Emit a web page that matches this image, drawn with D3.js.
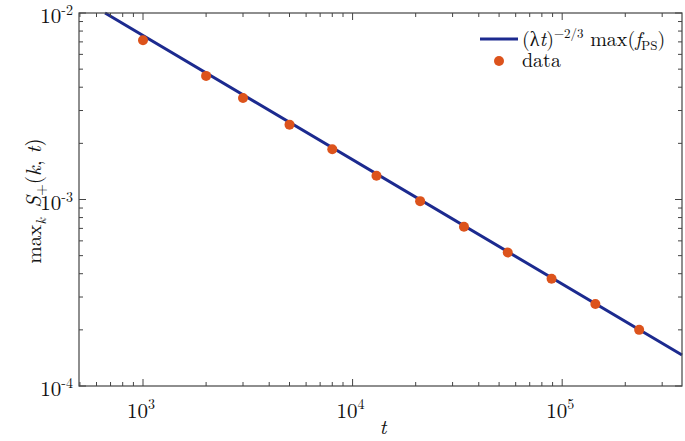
<!DOCTYPE html>
<html>
<head>
<meta charset="utf-8">
<script src="https://cdn.jsdelivr.net/npm/d3@7"></script>
<style>
  body { margin: 0; background: #fff; }
  svg { display: block; }
  text { font-family: "Latin Modern Roman", "Liberation Serif", "DejaVu Serif", serif; fill: #111; }
</style>
</head>
<body>
<svg id="chart" width="685" height="441"></svg>
<script>
'use strict';

// data points (t, max_k S+)
var times = [1000, 2000, 3000, 5000, 8000, 13000, 21000, 34000, 55000, 89000, 144000, 233000];
var peaks = [7.15e-3, 4.6e-3, 3.5e-3, 2.52e-3, 1.86e-3, 1.34e-3, 9.8e-4, 7.15e-4, 5.2e-4, 3.76e-4, 2.75e-4, 2.0e-4];

// fitted power-law line, endpoints
var lineT = [659, 373000];
var lineS = [1.0e-2, 1.465e-4];

var xTicks = [1e3, 1e4, 1e5];
var xTickExp = ['3', '4', '5'];
var yTicks = [1e-4, 1e-3, 1e-2];
var yTickExp = ['-4', '-3', '-2'];

var svg = d3.select('#chart');
var mLeft = 79, mRight = 682, mTop = 13, mBottom = 386;

var x = d3.scaleLog().domain([495, 373000]).range([mLeft, mRight]);
var y = d3.scaleLog().domain([1e-4, 1e-2]).range([mBottom, mTop]);

var blue = '#1c2a8f', orange = '#dc531c', axisCol = '#444';

// minor ticks
var xMinor = [], yMinor = [];
[100, 1000, 10000, 100000].forEach(function (d) {
    for (var i = 2; i <= 9; i++) {
        var v = d * i;
        if (v > 495 && v < 373000) xMinor.push(v);
    }
});
[1e-4, 1e-3].forEach(function (d) {
    for (var i = 2; i <= 9; i++) yMinor.push(d * i);
});

var g = svg.append('g');

// plot line and points
g.append('path')
    .datum(d3.range(lineT.length))
    .attr('fill', 'none')
    .attr('stroke', blue)
    .attr('stroke-width', 3)
    .attr('d', d3.line().x(function (i) { return x(lineT[i]); }).y(function (i) { return y(lineS[i]); }));

g.selectAll('circle.pt')
    .data(times)
    .enter().append('circle')
    .attr('class', 'pt')
    .attr('cx', function (d) { return x(d); })
    .attr('cy', function (d, i) { return y(peaks[i]); })
    .attr('r', 5)
    .attr('fill', orange);

// frame
g.append('rect')
    .attr('x', mLeft).attr('y', mTop)
    .attr('width', mRight - mLeft).attr('height', mBottom - mTop)
    .attr('fill', 'none').attr('stroke', axisCol).attr('stroke-width', 1.2);

// ticks (inside, on all four sides)
var tk = g.append('g').attr('stroke', axisCol).attr('stroke-width', 1);
xMinor.forEach(function (v) {
    tk.append('line').attr('x1', x(v)).attr('x2', x(v)).attr('y1', mBottom).attr('y2', mBottom - 4);
    tk.append('line').attr('x1', x(v)).attr('x2', x(v)).attr('y1', mTop).attr('y2', mTop + 4);
});
xTicks.forEach(function (v) {
    tk.append('line').attr('x1', x(v)).attr('x2', x(v)).attr('y1', mBottom).attr('y2', mBottom - 7);
    tk.append('line').attr('x1', x(v)).attr('x2', x(v)).attr('y1', mTop).attr('y2', mTop + 7);
});
yMinor.forEach(function (v) {
    tk.append('line').attr('y1', y(v)).attr('y2', y(v)).attr('x1', mLeft).attr('x2', mLeft + 4);
    tk.append('line').attr('y1', y(v)).attr('y2', y(v)).attr('x1', mRight).attr('x2', mRight - 4);
});
yTicks.forEach(function (v) {
    tk.append('line').attr('y1', y(v)).attr('y2', y(v)).attr('x1', mLeft).attr('x2', mLeft + 7);
    tk.append('line').attr('y1', y(v)).attr('y2', y(v)).attr('x1', mRight).attr('x2', mRight - 7);
});

// tick labels
xTicks.forEach(function (v, i) {
    var t = svg.append('text')
        .attr('x', x(v) - 2).attr('y', mBottom + 32)
        .attr('text-anchor', 'middle')
        .style('font-size', '21px');
    t.append('tspan').text('10');
    t.append('tspan').attr('dy', -9).style('font-size', '14px').text(xTickExp[i]);
});
yTicks.forEach(function (v, i) {
    var t = svg.append('text')
        .attr('x', mLeft - 6).attr('y', y(v) + 10)
        .attr('text-anchor', 'end')
        .style('font-size', '21px');
    t.append('tspan').text('10');
    t.append('tspan').attr('dy', -8).style('font-size', '14px').text(yTickExp[i]);
});

// axis labels
svg.append('text')
    .attr('x', 383).attr('y', 434)
    .attr('text-anchor', 'middle')
    .style('font-size', '21px').style('font-style', 'italic')
    .text('t');

var yl = svg.append('text')
    .attr('transform', 'translate(41,201) rotate(-90)')
    .attr('text-anchor', 'middle')
    .style('font-size', '21px');
yl.append('tspan').text('max');
yl.append('tspan').attr('dy', 5).style('font-size', '14px').style('font-style', 'italic').text('k');
yl.append('tspan').attr('dy', -5).text('\u2002');
yl.append('tspan').style('font-style', 'italic').text('S');
yl.append('tspan').attr('dy', 5).style('font-size', '15px').text('+');
yl.append('tspan').attr('dy', -5).text('(');
yl.append('tspan').style('font-style', 'italic').text('k');
yl.append('tspan').text(', ');
yl.append('tspan').style('font-style', 'italic').text('t');
yl.append('tspan').text(')');

// legend
var lg = svg.append('g');
lg.append('line').attr('x1', 480).attr('x2', 518).attr('y1', 39).attr('y2', 39)
    .attr('stroke', blue).attr('stroke-width', 3);
var lt = lg.append('text').attr('x', 522).attr('y', 46).style('font-size', '20px');
lt.append('tspan').text('(\u03BB');
lt.append('tspan').style('font-style', 'italic').text('t');
lt.append('tspan').text(')');
lt.append('tspan').attr('dy', -8).style('font-size', '13px').text('\u22122/3');
lt.append('tspan').attr('dy', 8).text(' max(');
lt.append('tspan').style('font-style', 'italic').text('f');
lt.append('tspan').attr('dy', 4).style('font-size', '13px').text('PS');
lt.append('tspan').attr('dy', -4).text(')');
lg.append('circle').attr('cx', 499).attr('cy', 61).attr('r', 5).attr('fill', orange);
lg.append('text').attr('x', 522).attr('y', 67).style('font-size', '20px').text('data');
</script>
</body>
</html>
